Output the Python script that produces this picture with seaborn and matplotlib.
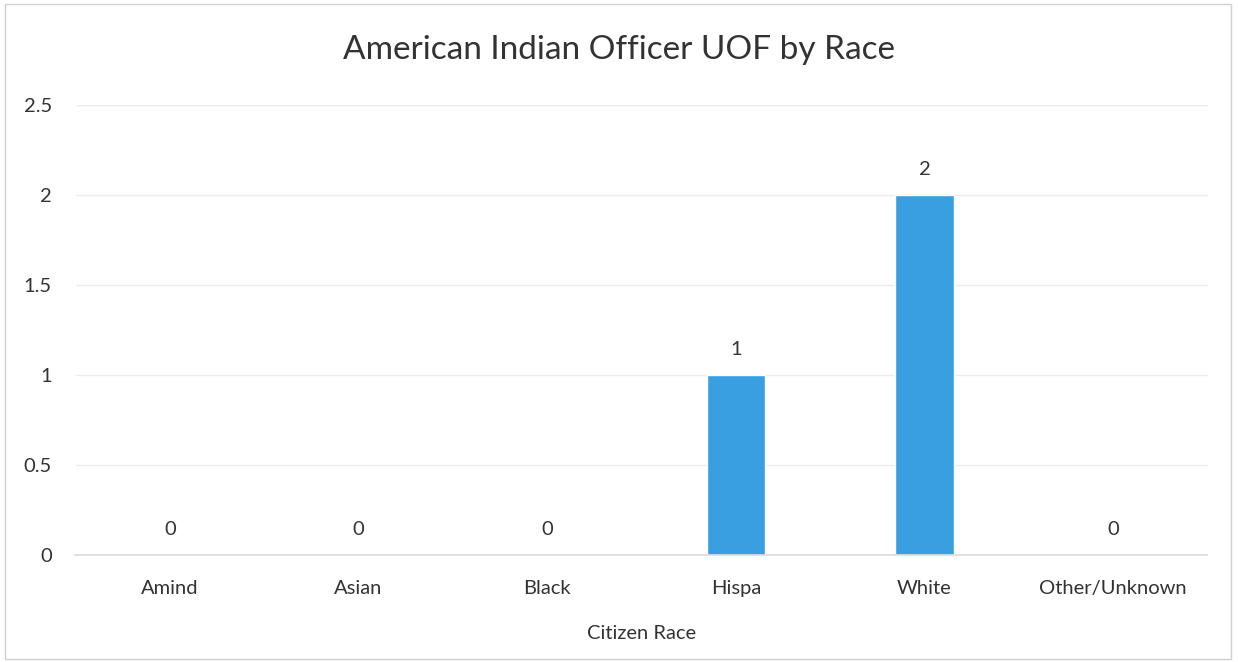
import matplotlib
matplotlib.use("Agg")
import matplotlib.pyplot as plt
import seaborn as sns
import pandas as pd

# chart data
races = ["Amind", "Asian", "Black", "Hispa", "White", "Other/Unknown"]
uof_counts = [0, 0, 0, 1, 2, 0]
y_ticks = [0, 0.5, 1, 1.5, 2, 2.5]
y_tick_labels = ["0", "0.5", "1", "1.5", "2", "2.5"]

df = pd.DataFrame({"Citizen Race": races, "Count": uof_counts})

sns.set_theme(style="white")
plt.rcParams["font.family"] = ["Lato", "DejaVu Sans"]

fig = plt.figure(figsize=(12.38, 6.62), dpi=100)
ax = fig.add_axes([75.5 / 1238, 1 - 555 / 662, 1132 / 1238, 450 / 662])

sns.barplot(data=df, x="Citizen Race", y="Count", color="#3A9FE0",
            width=0.31, saturation=1, ax=ax)

ax.set_ylim(0, 2.5)
ax.set_yticks(y_ticks)
ax.set_yticklabels(y_tick_labels)
ax.yaxis.grid(True, color="#ececec", linewidth=1)
ax.set_axisbelow(True)
for s in ["top", "right", "left"]:
    ax.spines[s].set_visible(False)
ax.spines["bottom"].set_color("#dcdcdc")
ax.tick_params(axis="both", length=0, labelsize=14.5, colors="#333333")
ax.tick_params(axis="x", pad=18)
ax.tick_params(axis="y", pad=17)

for c in ax.containers:
    ax.bar_label(c, fmt="%g", padding=12, fontsize=14.5, color="#333333")

ax.set_xlabel("Citizen Race", fontsize=14.5, color="#333333", labelpad=20)
ax.set_ylabel("")
fig.text(0.5, 1 - 50 / 662, "American Indian Officer UOF by Race",
         ha="center", va="center", fontsize=24, color="#333333")

# faint chart border
fig.patches.append(plt.Rectangle((0.004, 0.004), 0.99, 0.99, transform=fig.transFigure,
                                 fill=False, edgecolor="#d0d0d0", linewidth=1))

fig.savefig("out.png", dpi=100)
